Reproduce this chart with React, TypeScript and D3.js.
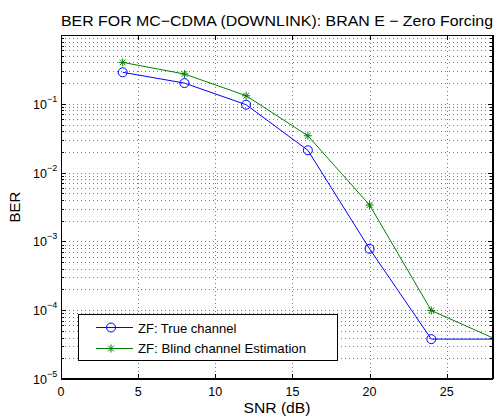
import React from "react";
import * as d3 from "d3";

const snr = [4, 8, 12, 16, 20, 24, 28];
const berTrue = [0.287, 0.2, 0.097, 0.0211, 7.8e-4, 3.8e-5, 3.8e-5];
const berBlind = [0.4, 0.271, 0.131, 0.0343, 3.38e-3, 9.9e-5, 3.95e-5];
const xTicks = [0, 5, 10, 15, 20, 25];
const yDecades = [-5, -4, -3, -2, -1, 0];
const seriesNames = ["ZF: True channel", "ZF: Blind channel Estimation"];
const title = "BER FOR MC\u2212CDMA (DOWNLINK): BRAN E \u2212 Zero Forcing";

const W = 496, H = 417;
const L = 61, R = 493, T = 35, B = 379;
const FONT = "'Liberation Sans', Arial, Helvetica, sans-serif";

export default function App() {
  const x = d3.scaleLinear().domain([0, 28]).range([L, R]);
  const y = d3.scaleLog().domain([1e-5, 1]).range([B, T]);
  const line = d3.line<[number, number]>().x(d => x(d[0])).y(d => y(d[1]));
  const blue = "#0000ff", green = "#008000";
  const minor: number[] = [];
  for (let k = -5; k < 0; k++) for (let m = 2; m <= 9; m++) minor.push(m * Math.pow(10, k));
  const major = yDecades.map(k => Math.pow(10, k));
  const tl = 5, tlm = 3;
  const star = (cx: number, cy: number, s: number) => {
    const d = s * 0.72;
    return `M${cx - s},${cy}L${cx + s},${cy}M${cx},${cy - s}L${cx},${cy + s}M${cx - d},${cy - d}L${cx + d},${cy + d}M${cx - d},${cy + d}L${cx + d},${cy - d}`;
  };
  const dTrue = snr.map((s, i) => [s, berTrue[i]] as [number, number]);
  const dBlind = snr.map((s, i) => [s, berBlind[i]] as [number, number]);
  const grid = "#7a7a7a";
  return (
    <svg width={W} height={H} style={{ position: "absolute", left: 0, top: 0, background: "#fff" }} fontFamily={FONT}>
      <defs>
        <clipPath id="clip"><rect x={L} y={T} width={R - L} height={B - T} /></clipPath>
      </defs>
      <rect x={0} y={0} width={W} height={H} fill="#fff" />
      {/* grid */}
      <g stroke={grid} strokeWidth={1} strokeDasharray="1,3" fill="none">
        {xTicks.map(t => (
          <line key={"gx" + t} x1={Math.round(x(t)) + 0.5} x2={Math.round(x(t)) + 0.5} y1={T} y2={B} />
        ))}
        {[...major, ...minor].map((v, i) => (
          <line key={"gy" + i} x1={L} x2={R} y1={Math.round(y(v)) + 0.5} y2={Math.round(y(v)) + 0.5} />
        ))}
      </g>
      {/* ticks */}
      <g stroke="#000" strokeWidth={1}>
        {xTicks.map(t => {
          const px = Math.round(x(t)) + 0.5;
          return (
            <g key={"tx" + t}>
              <line x1={px} x2={px} y1={B} y2={B - tl} />
              <line x1={px} x2={px} y1={T} y2={T + tl} />
            </g>
          );
        })}
        {major.map((v, i) => {
          const py = Math.round(y(v)) + 0.5;
          return (
            <g key={"ty" + i}>
              <line x1={L} x2={L + tl} y1={py} y2={py} />
              <line x1={R} x2={R - tl} y1={py} y2={py} />
            </g>
          );
        })}
        {minor.map((v, i) => {
          const py = Math.round(y(v)) + 0.5;
          return (
            <g key={"tm" + i}>
              <line x1={L} x2={L + tlm} y1={py} y2={py} />
              <line x1={R} x2={R - tlm} y1={py} y2={py} />
            </g>
          );
        })}
      </g>
      {/* series */}
      <g clipPath="url(#clip)" fill="none">
        <path d={line(dTrue) || ""} stroke={blue} strokeWidth={1} />
        <path d={line(dBlind) || ""} stroke={green} strokeWidth={1} />
      </g>
      {dTrue.filter(d => d[0] < 28).map((d, i) => (
        <circle key={"c" + i} cx={x(d[0])} cy={y(d[1])} r={4.5} fill="none" stroke={blue} strokeWidth={1} />
      ))}
      {dBlind.filter(d => d[0] < 28).map((d, i) => (
        <path key={"s" + i} d={star(x(d[0]), y(d[1]), 4)} stroke={green} strokeWidth={1} fill="none" />
      ))}
      {/* axes box */}
      <rect x={L + 0.5} y={T + 0.5} width={R - L - 1} height={B - T - 1} fill="none" stroke="#000" strokeWidth={1} />
      <line x1={L} x2={R} y1={B} y2={B} stroke="#000" strokeWidth={2} />
      <line x1={R} x2={R} y1={T} y2={B} stroke="#000" strokeWidth={2} />
      {/* x tick labels */}
      {xTicks.map(t => (
        <text key={"xl" + t} x={x(t)} y={396} textAnchor="middle" fontSize={12.5} fill="#000">{t}</text>
      ))}
      {/* y tick labels */}
      {yDecades.filter(k => k < 0).map(k => (
        <g key={"yl" + k}>
          <text x={47} y={y(Math.pow(10, k)) + 5} textAnchor="end" fontSize={12.5} fill="#000">10</text>
          <text x={47} y={y(Math.pow(10, k)) - 2} textAnchor="start" fontSize={9} fill="#000">{"\u2212" + -k}</text>
        </g>
      ))}
      {/* labels */}
      <text x={(L + R) / 2} y={26} textAnchor="middle" fontSize={15} fill="#000" textLength={432} lengthAdjust="spacingAndGlyphs">{title}</text>
      <text x={(L + R) / 2} y={413} textAnchor="middle" fontSize={15} fill="#000" textLength={67} lengthAdjust="spacingAndGlyphs">SNR (dB)</text>
      <text transform={`translate(20,${(T + B) / 2}) rotate(-90)`} textAnchor="middle" fontSize={15} fill="#000">BER</text>
      {/* legend */}
      <g>
        <rect x={78.5} y={314.5} width={259} height={46} fill="#fff" stroke="#000" strokeWidth={1} />
        <line x1={96} x2={133} y1={327.5} y2={327.5} stroke={blue} strokeWidth={1} />
        <circle cx={111} cy={327.5} r={4.5} fill="none" stroke={blue} strokeWidth={1} />
        <text x={138} y={332.5} fontSize={13} fill="#000">{seriesNames[0]}</text>
        <line x1={96} x2={133} y1={348.5} y2={348.5} stroke={green} strokeWidth={1} />
        <path d={star(111, 348.5, 4)} stroke={green} strokeWidth={1} fill="none" />
        <text x={138} y={353} fontSize={13} fill="#000" textLength={168} lengthAdjust="spacingAndGlyphs">{seriesNames[1]}</text>
      </g>
    </svg>
  );
}
